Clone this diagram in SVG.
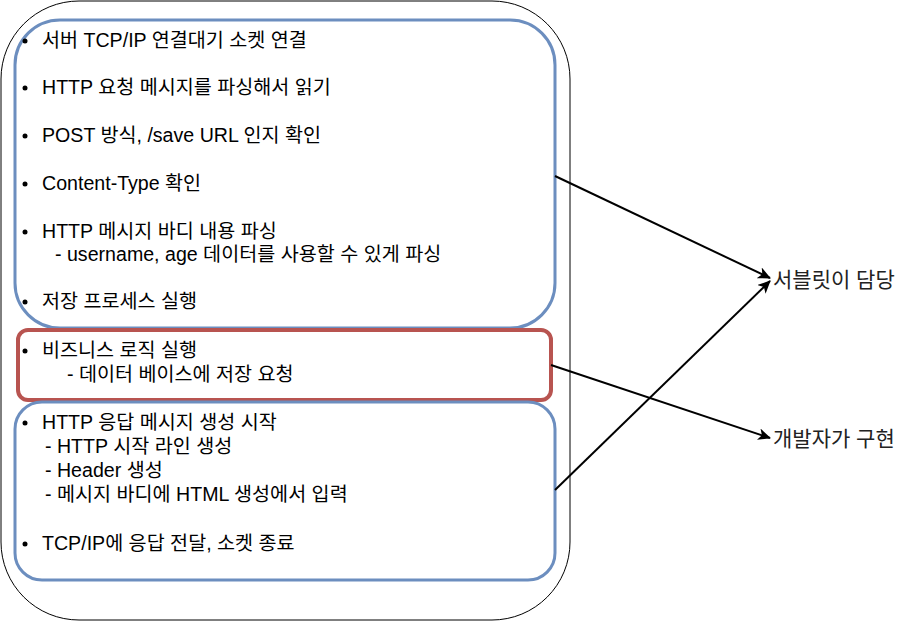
<svg xmlns="http://www.w3.org/2000/svg" width="902" height="622" viewBox="0 0 902 622">
<style>
text{font-family:"Liberation Sans","Noto Sans CJK KR",sans-serif;font-size:19.6px;fill:#000}
.lbl{font-size:21px;fill:#222}
.blue{fill:none;stroke:#6c8ebf;stroke-width:3}
.red{fill:none;stroke:#b85450;stroke-width:4}
.conn{fill:none;stroke:#000;stroke-width:2}
</style>
<defs>
<marker id="arr" markerUnits="userSpaceOnUse" markerWidth="14" markerHeight="12" refX="12" refY="6" orient="auto" viewBox="0 0 14 12">
<path d="M0,0 L13,6 L0,12 L3.5,6 z" fill="#000"/>
</marker>
</defs>
<g id="outer">
<rect x="1" y="1" width="569" height="619" rx="78" ry="78" fill="#fff" stroke="#000" stroke-width="1"/>
</g>
<g id="servlet-block">
<rect class="blue" x="15" y="20" width="540" height="308" rx="45" ry="45"/>
<g>
<circle cx="25" cy="41" r="2.5"/><text x="42" y="47">서버 TCP/IP 연결대기 소켓 연결</text>
<circle cx="25" cy="88" r="2.5"/><text x="42" y="94">HTTP 요청 메시지를 파싱해서 읽기</text>
<circle cx="25" cy="136" r="2.5"/><text x="42" y="142">POST 방식, /save URL 인지 확인</text>
<circle cx="25" cy="184" r="2.5"/><text x="42" y="190">Content-Type 확인</text>
<circle cx="25" cy="232" r="2.5"/><text x="42" y="238">HTTP 메시지 바디 내용 파싱</text>
<text x="55" y="261">- username, age 데이터를 사용할 수 있게 파싱</text>
<circle cx="25" cy="302" r="2.5"/><text x="42" y="308">저장 프로세스 실행</text>
</g>
</g>
<g id="business-block">
<rect class="red" x="18" y="330" width="533" height="70" rx="10" ry="10"/>
<circle cx="25" cy="351" r="2.5"/><text x="42" y="357">비즈니스 로직 실행</text>
<text x="67" y="381">- 데이터 베이스에 저장 요청</text>
</g>
<g id="response-block">
<rect class="blue" x="15" y="402" width="540" height="178" rx="27" ry="27"/>
<circle cx="25" cy="423" r="2.5"/><text x="42" y="429">HTTP 응답 메시지 생성 시작</text>
<text x="45" y="453">- HTTP 시작 라인 생성</text>
<text x="45" y="477">- Header 생성</text>
<text x="45" y="501">- 메시지 바디에 HTML 생성에서 입력</text>
<circle cx="25" cy="544" r="2.5"/><text x="42" y="550">TCP/IP에 응답 전달, 소켓 종료</text>
</g>
<g id="label-servlet">
<text class="lbl" x="773" y="287">서블릿이 담당</text>
</g>
<g id="label-dev">
<text class="lbl" x="773" y="446">개발자가 구현</text>
</g>
<g id="connectors">
<line class="conn" x1="555" y1="176" x2="770" y2="278" marker-end="url(#arr)"/>
<line class="conn" x1="551" y1="365" x2="770" y2="438" marker-end="url(#arr)"/>
<line class="conn" x1="555" y1="490" x2="770" y2="281" marker-end="url(#arr)"/>
</g>
</svg>
